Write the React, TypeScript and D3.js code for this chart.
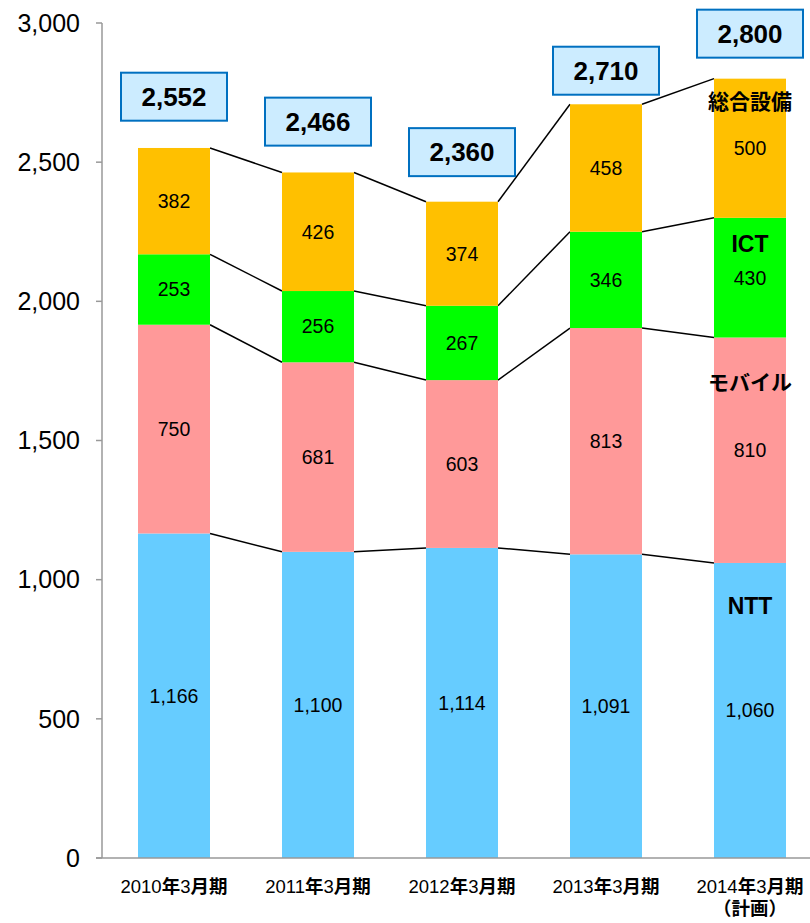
import { useEffect, useRef } from 'react'
import * as d3 from 'd3'

const periods = ['2010年3月期', '2011年3月期', '2012年3月期', '2013年3月期', '2014年3月期']
const periodNotes = ['', '', '', '', '（計画）']
const seriesNames = ['NTT', 'モバイル', 'ICT', '総合設備']
const ntt = [1166, 1100, 1114, 1091, 1060]
const mobile = [750, 681, 603, 813, 810]
const ict = [253, 256, 267, 346, 430]
const facility = [382, 426, 374, 458, 500]
const totals = [2552, 2466, 2360, 2710, 2800]
const yTicks = [0, 500, 1000, 1500, 2000, 2500, 3000]

const colors = ['#66CCFF', '#FF9999', '#00FF00', '#FFC000']
// px gap between bar top and total box centre
const boxLift = [51, 50, 49, 33, 45]
// px offset of series name below segment top (last bar)
const nameDrop = [43, 45, 26, 23]

const W = 810
const H = 923

export default function App() {
  const svgRef = useRef<SVGSVGElement>(null)

  useEffect(() => {
    if (!svgRef.current) return
    const svg = d3.select(svgRef.current)
    svg.selectAll('*').remove()

    const left = 102
    const right = 822
    const top = 23
    const bottom = 858
    const font = '"Liberation Sans", Arial, sans-serif'
    const cjk = '"Liberation Sans", "Noto Sans CJK JP", sans-serif'

    const x = d3.scaleBand<number>()
      .domain(d3.range(periods.length))
      .range([left, right])
      .paddingInner(0.5)
      .paddingOuter(0.25)
    const y = d3.scaleLinear().domain([0, 3000]).range([bottom, top])
    const bw = x.bandwidth()

    const series = [ntt, mobile, ict, facility]
    const rows = periods.map((_, i) => ({ i, ntt: ntt[i], mobile: mobile[i], ict: ict[i], facility: facility[i] }))
    const stack = d3.stack<any>().keys(['ntt', 'mobile', 'ict', 'facility'])(rows)

    // connector lines
    const g = svg.append('g')
    stack.forEach((layer) => {
      for (let i = 0; i < layer.length - 1; i++) {
        g.append('line')
          .attr('x1', (x(i) ?? 0) + bw).attr('y1', y(layer[i][1]))
          .attr('x2', x(i + 1) ?? 0).attr('y2', y(layer[i + 1][1]))
          .attr('stroke', '#000').attr('stroke-width', 1.5)
      }
    })

    // bars
    stack.forEach((layer, k) => {
      g.selectAll(null)
        .data(layer)
        .join('rect')
        .attr('x', (_, i) => x(i) ?? 0)
        .attr('y', (d) => y(d[1]))
        .attr('width', bw)
        .attr('height', (d) => y(d[0]) - y(d[1]))
        .attr('fill', colors[k])
    })

    // value labels
    stack.forEach((layer, k) => {
      g.selectAll(null)
        .data(layer)
        .join('text')
        .attr('x', (_, i) => (x(i) ?? 0) + bw / 2)
        .attr('y', (d) => y((d[0] + d[1]) / 2))
        .attr('dy', '0.35em')
        .attr('text-anchor', 'middle')
        .attr('font-family', font)
        .attr('font-size', 19.5)
        .attr('fill', '#000')
        .text((_, i) => d3.format(',')(series[k][i]))
    })

    // series names on last bar
    const last = periods.length - 1
    stack.forEach((layer, k) => {
      const latin = /^[A-Za-z]+$/.test(seriesNames[k])
      g.append('text')
        .attr('x', (x(last) ?? 0) + bw / 2)
        .attr('y', y(layer[last][1]) + nameDrop[k])
        .attr('dy', '0.35em')
        .attr('text-anchor', 'middle')
        .attr('font-family', cjk)
        .attr('font-size', latin ? 23 : 21)
        .attr('font-weight', 'bold')
        .attr('fill', '#000')
        .text(seriesNames[k])
    })

    // total boxes
    totals.forEach((t, i) => {
      const cx = (x(i) ?? 0) + bw / 2
      const cy = y(t) - boxLift[i]
      g.append('rect')
        .attr('x', cx - 53).attr('y', cy - 24)
        .attr('width', 106).attr('height', 48)
        .attr('fill', '#CCECFF')
        .attr('stroke', '#0070C0')
        .attr('stroke-width', 2)
      g.append('text')
        .attr('x', cx).attr('y', cy)
        .attr('dy', '0.36em')
        .attr('text-anchor', 'middle')
        .attr('font-family', font)
        .attr('font-size', 26)
        .attr('font-weight', 'bold')
        .attr('fill', '#000')
        .text(d3.format(',')(t))
    })

    // y axis
    const ax = svg.append('g')
    ax.append('line')
      .attr('x1', left).attr('x2', left).attr('y1', top).attr('y2', bottom)
      .attr('stroke', '#999').attr('stroke-width', 1.5)
    yTicks.forEach((v) => {
      ax.append('line')
        .attr('x1', left - 6).attr('x2', left).attr('y1', y(v)).attr('y2', y(v))
        .attr('stroke', '#999').attr('stroke-width', 1.5)
      ax.append('text')
        .attr('x', 80).attr('y', y(v))
        .attr('dy', '0.35em')
        .attr('text-anchor', 'end')
        .attr('font-family', font)
        .attr('font-size', 25)
        .attr('fill', '#000')
        .text(d3.format(',')(v))
    })
    ax.append('line')
      .attr('x1', left - 6).attr('x2', W).attr('y1', bottom).attr('y2', bottom)
      .attr('stroke', '#999').attr('stroke-width', 1.5)

    // x labels
    periods.forEach((p, i) => {
      const cx = (x(i) ?? 0) + bw / 2
      const m = p.match(/^(\d+)(年)(\d+)(月期)$/)
      const t = ax.append('text')
        .attr('x', cx).attr('y', 893)
        .attr('text-anchor', 'middle')
        .attr('font-family', cjk)
        .attr('font-size', 18.5)
        .attr('fill', '#000')
      if (m) {
        t.append('tspan').text(m[1])
        t.append('tspan').attr('font-weight', 'bold').text(m[2])
        t.append('tspan').text(m[3])
        t.append('tspan').attr('font-weight', 'bold').text(m[4])
      } else {
        t.text(p)
      }
      if (periodNotes[i]) {
        ax.append('text')
          .attr('x', cx).attr('y', 915)
          .attr('text-anchor', 'middle')
          .attr('font-family', cjk)
          .attr('font-size', 18.5)
          .attr('font-weight', 'bold')
          .attr('fill', '#000')
          .text(periodNotes[i])
      }
    })
  }, [])

  return (
    <svg
      ref={svgRef}
      width={W}
      height={H}
      style={{ position: 'absolute', top: 0, left: 0, background: '#fff' }}
    />
  )
}
